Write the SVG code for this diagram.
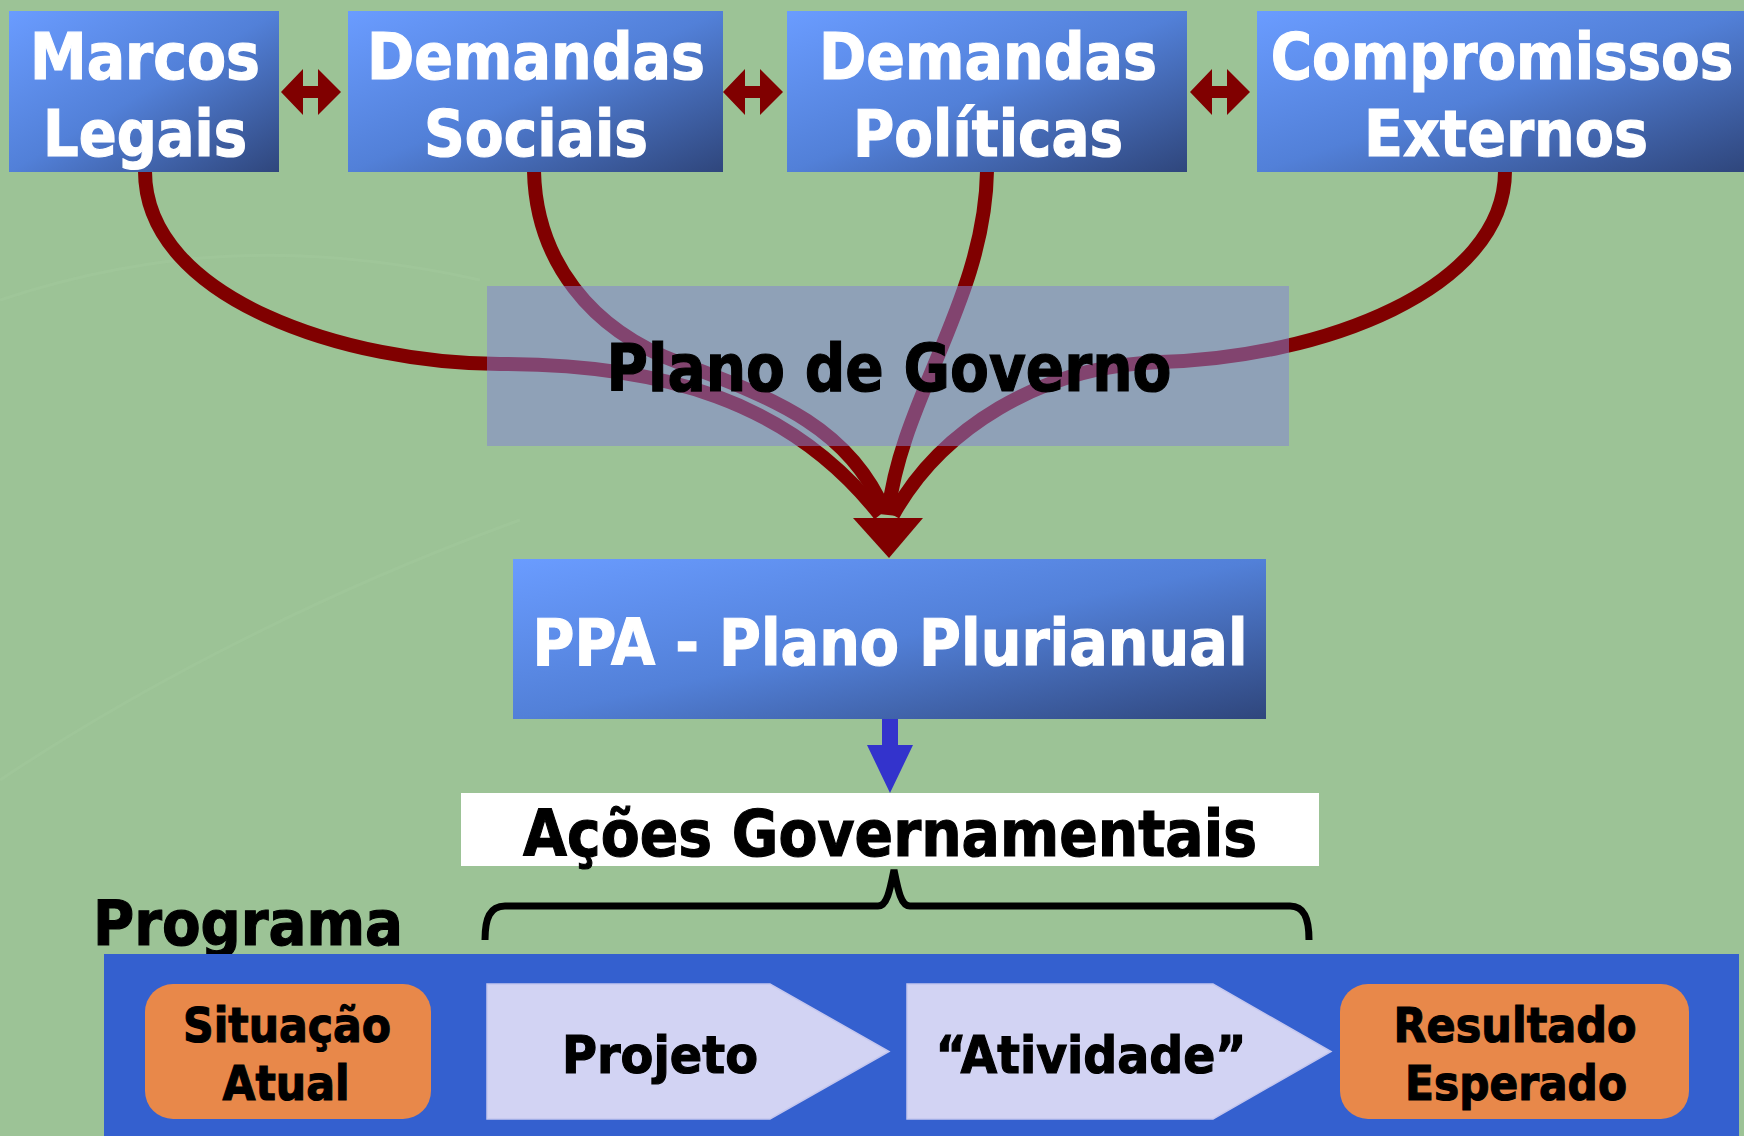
<svg xmlns="http://www.w3.org/2000/svg" width="1744" height="1136" viewBox="0 0 1744 1136">
<defs>
<linearGradient id="blueGrad" x1="0" y1="0" x2="1" y2="1">
<stop offset="0" stop-color="#6A9CFF"/>
<stop offset="0.5" stop-color="#5280D8"/>
<stop offset="1" stop-color="#2F467C"/>
</linearGradient>
<style>
.bg{fill:#9CC396}
.topbox{fill:url(#blueGrad)}
.wt{font-family:"DejaVu Sans","Verdana",sans-serif;font-weight:bold;fill:#FFFFFF;stroke:#FFFFFF;stroke-width:1.2;text-anchor:middle}
.bt{font-family:"DejaVu Sans","Verdana",sans-serif;font-weight:bold;fill:#000000;stroke:#000000;stroke-width:1.2;text-anchor:middle}
.curve{fill:none;stroke:#800000;stroke-width:14}
.red{fill:#800000}
.orange{fill:#E8884A}
.step{fill:#D2D3F3;stroke:#C4C6EE;stroke-width:1.5}
</style>
</defs>
<rect class="bg" x="0" y="0" width="1744" height="1136"/>
<g opacity="0.15" fill="none" stroke="#B5D6AE" stroke-width="3">
<path d="M0,300 C150,250 300,240 480,280"/>
<path d="M0,780 C120,700 300,600 520,520"/>
</g>

<g id="connectors">
<path class="curve" d="M145,171 C145,300 350,364 500,364 C660,364 790,400 880,515"/>
<path class="curve" d="M534,171 C536,260 590,330 680,363 C780,400 850,430 885,512"/>
<path class="curve" d="M987,171 C985,300 900,400 888,515"/>
<path class="curve" d="M1505,171 C1505,290 1320,358 1160,362 C1040,366 940,430 893,515"/>
<polygon class="red" points="853,518 923,518 889,558"/>
<polygon class="red" points="281,92 303,69 303,86 318,86 318,69 341,92 318,115 318,98 303,98 303,115"/>
<polygon class="red" points="723,92 745,69 745,86 760,86 760,69 783,92 760,115 760,98 745,98 745,115"/>
<polygon class="red" points="1190,92 1212,69 1212,86 1227,86 1227,69 1250,92 1227,115 1227,98 1212,98 1212,115"/>
<polygon fill="#3333CC" points="882,719 898,719 898,745 913,745 890,793 867,745 882,745"/>
<path d="M485,940 C485,918 490,906 505,906 L878,906 C887,906 890,890 894,870 C898,890 901,906 910,906 L1290,906 C1304,906 1309,918 1309,940" fill="none" stroke="#000000" stroke-width="7"/>
</g>

<g id="marcos-legais">
<rect class="topbox" x="9" y="11" width="270" height="161"/>
<text class="wt" font-size="64" x="145" y="79" textLength="230" lengthAdjust="spacingAndGlyphs">Marcos</text>
<text class="wt" font-size="64" x="145" y="156" textLength="204" lengthAdjust="spacingAndGlyphs">Legais</text>
</g>
<g id="demandas-sociais">
<rect class="topbox" x="348" y="11" width="375" height="161"/>
<text class="wt" font-size="64" x="536" y="79" textLength="338" lengthAdjust="spacingAndGlyphs">Demandas</text>
<text class="wt" font-size="64" x="536" y="156" textLength="224" lengthAdjust="spacingAndGlyphs">Sociais</text>
</g>
<g id="demandas-politicas">
<rect class="topbox" x="787" y="11" width="400" height="161"/>
<text class="wt" font-size="64" x="988" y="79" textLength="338" lengthAdjust="spacingAndGlyphs">Demandas</text>
<text class="wt" font-size="64" x="988" y="156" textLength="270" lengthAdjust="spacingAndGlyphs">Políticas</text>
</g>
<g id="compromissos-externos">
<rect class="topbox" x="1257" y="11" width="487" height="161"/>
<text class="wt" font-size="64" x="0" y="0" transform="translate(1502,79) scale(0.88,1)">Compromissos</text>
<text class="wt" font-size="64" x="1506" y="156" textLength="284" lengthAdjust="spacingAndGlyphs">Externos</text>
</g>

<g id="plano-de-governo">
<rect x="487" y="286" width="802" height="160" fill="#8583D5" fill-opacity="0.52"/>
<text class="bt" font-size="65" x="889" y="391" textLength="565" lengthAdjust="spacingAndGlyphs">Plano de Governo</text>
</g>

<g id="ppa">
<rect class="topbox" x="513" y="559" width="753" height="160"/>
<text class="wt" font-size="64" x="890" y="665" textLength="715" lengthAdjust="spacingAndGlyphs">PPA - Plano Plurianual</text>
</g>

<g id="acoes-governamentais">
<rect x="461" y="793" width="858" height="73" fill="#FFFFFF"/>
<text class="bt" font-size="64" x="890" y="856" textLength="734" lengthAdjust="spacingAndGlyphs">Ações Governamentais</text>
</g>

<g id="programa">
<text class="bt" font-size="62" x="248" y="945" textLength="310" lengthAdjust="spacingAndGlyphs">Programa</text>
<rect x="104" y="954" width="1635" height="182" fill="#3460CF"/>
</g>

<g id="situacao-atual">
<rect class="orange" x="145" y="984" width="286" height="135" rx="28" ry="28"/>
<text class="bt" font-size="48" x="287" y="1042" textLength="208" lengthAdjust="spacingAndGlyphs">Situação</text>
<text class="bt" font-size="48" x="286" y="1100" textLength="127" lengthAdjust="spacingAndGlyphs">Atual</text>
</g>
<g id="projeto">
<polygon class="step" points="487,984 770,984 889,1051.5 770,1119 487,1119"/>
<text class="bt" font-size="52" x="660" y="1073" textLength="196" lengthAdjust="spacingAndGlyphs">Projeto</text>
</g>
<g id="atividade">
<polygon class="step" points="907,984 1213,984 1331,1051.5 1213,1119 907,1119"/>
<text class="bt" font-size="52" x="1091" y="1073" textLength="311" lengthAdjust="spacingAndGlyphs">“Atividade”</text>
</g>
<g id="resultado-esperado">
<rect class="orange" x="1340" y="984" width="349" height="135" rx="28" ry="28"/>
<text class="bt" font-size="48" x="1515" y="1042" textLength="243" lengthAdjust="spacingAndGlyphs">Resultado</text>
<text class="bt" font-size="48" x="1516" y="1100" textLength="222" lengthAdjust="spacingAndGlyphs">Esperado</text>
</g>
</svg>
